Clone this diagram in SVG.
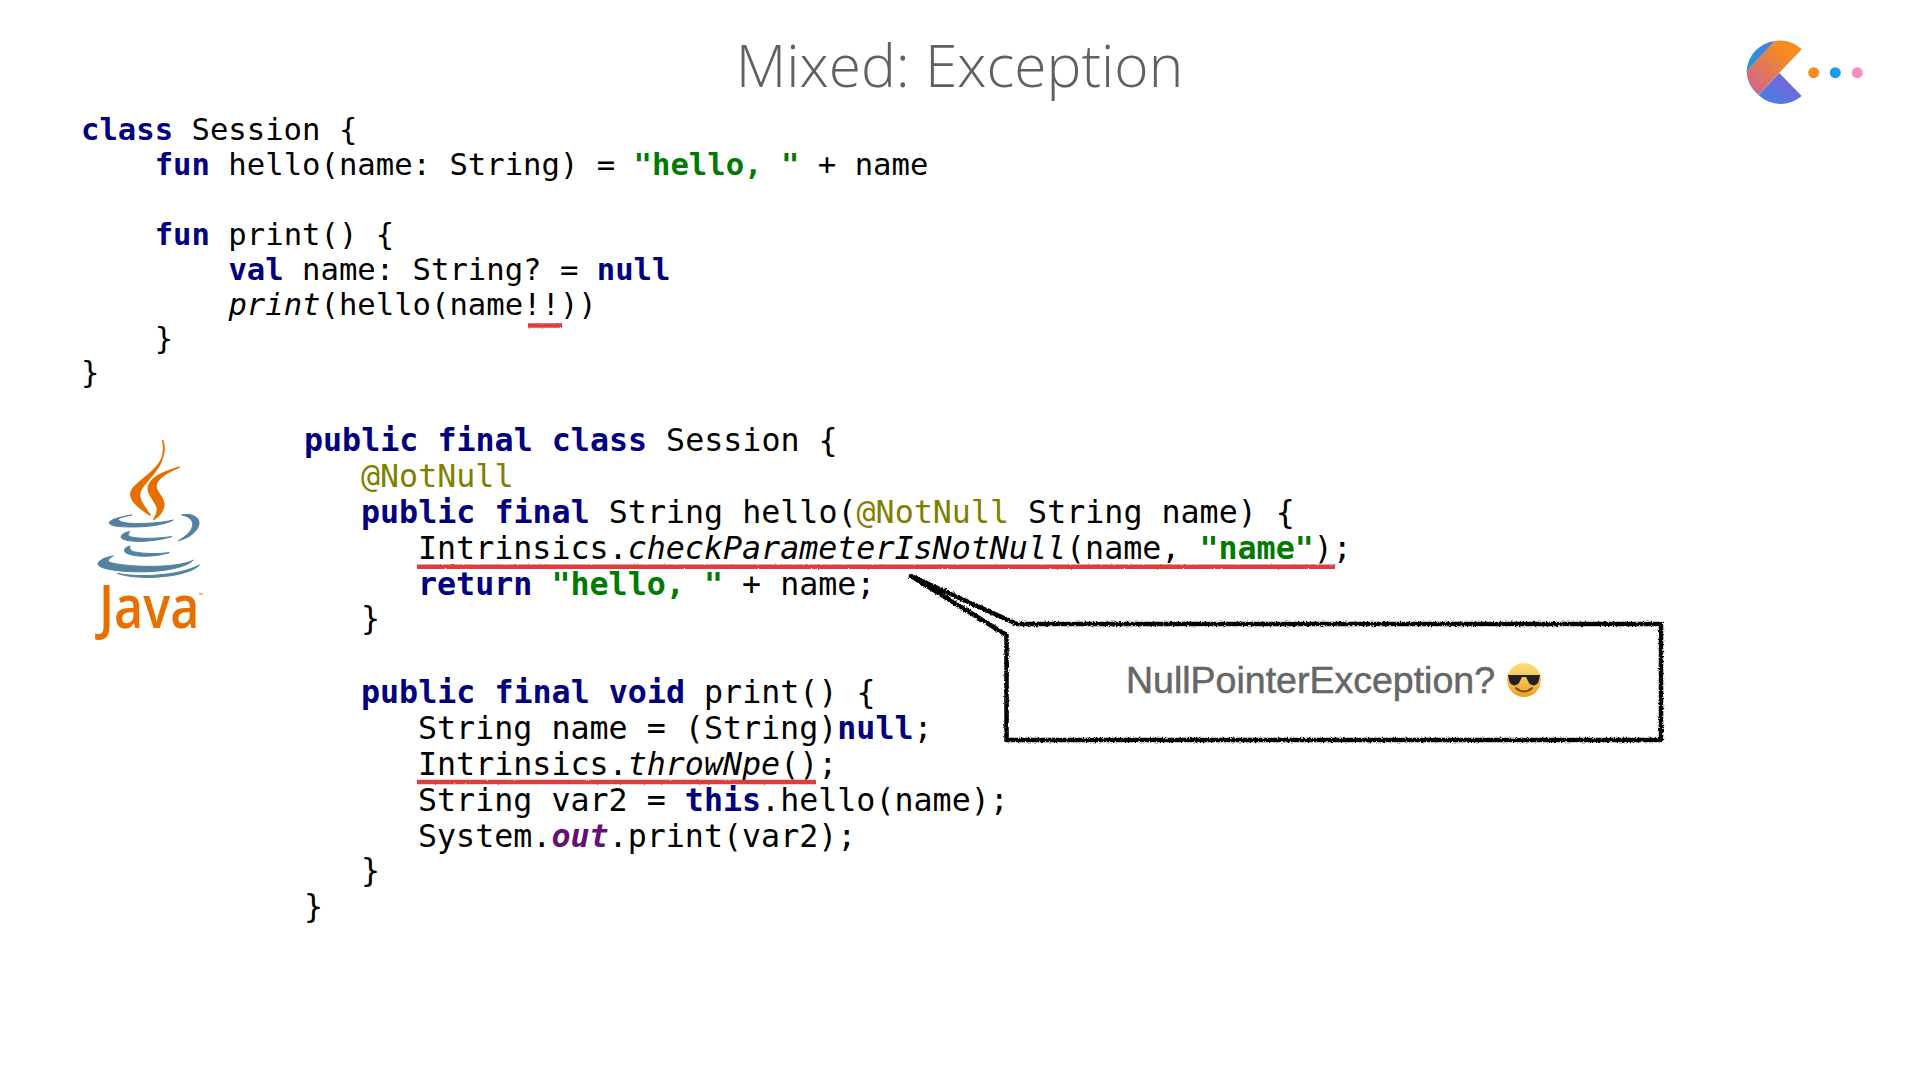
<svg xmlns="http://www.w3.org/2000/svg" width="1920" height="1080" viewBox="0 0 1920 1080">
<style>
.k{font-family:"DejaVu Sans Mono","Liberation Mono",monospace;font-size:30.6px;fill:#000;white-space:pre}
.j{font-family:"DejaVu Sans Mono","Liberation Mono",monospace;font-size:31.67px;fill:#000;white-space:pre}
.b{font-weight:700;fill:#000080}
.s{font-weight:700;fill:#007a00}
.a{fill:#808000}
.i{font-style:italic}
.o{font-weight:700;font-style:italic;fill:#660E7A}
.u{fill:none;stroke:#e23a3a;stroke-width:4.5;stroke-linecap:butt}
.fl{fill:#e76f00;stroke:#e76f00;stroke-width:5;stroke-linejoin:round}
.bl{fill:#5382a1;stroke:#5382a1;stroke-width:3;stroke-linejoin:round}
</style>
<defs>
<filter id="rough" x="-5%" y="-20%" width="110%" height="140%"><feTurbulence type="fractalNoise" baseFrequency="0.6" numOctaves="2" seed="4"/><feDisplacementMap in="SourceGraphic" scale="3.5" xChannelSelector="R" yChannelSelector="G"/></filter>
<filter id="soft" filterUnits="userSpaceOnUse" x="400" y="300" width="960" height="500"><feTurbulence type="fractalNoise" baseFrequency="0.7" numOctaves="2" seed="7"/><feDisplacementMap in="SourceGraphic" scale="2" xChannelSelector="R" yChannelSelector="G"/></filter>
<linearGradient id="g1" x1="1" y1="0" x2="0" y2="1"><stop offset="0.25" stop-color="#f68b1f"/><stop offset="1" stop-color="#c9619b"/></linearGradient>
<linearGradient id="g2" x1="1" y1="0" x2="0" y2="1"><stop offset="0.2" stop-color="#7a62dc"/><stop offset="1" stop-color="#3f86e0"/></linearGradient>
<linearGradient id="g3" x1="0" y1="0" x2="1" y2="0"><stop offset="0" stop-color="#1f97d8"/><stop offset="1" stop-color="#5a78d8"/></linearGradient>
<linearGradient id="sm" x1="0" y1="0" x2="0" y2="1"><stop offset="0" stop-color="#fbe27a"/><stop offset="1" stop-color="#f0a020"/></linearGradient>
</defs>
<rect width="1920" height="1080" fill="#fff"/>
<g id="title"><text x="959.5" y="87" text-anchor="middle" font-family="'Open Sans','Noto Sans',sans-serif" font-weight="300" font-size="58.6" fill="#606060">Mixed: Exception</text></g>
<g id="logo">
<path d="M1801.7 49.3A32 32 0 0 0 1775 41L1746.5 71A32 32 0 0 0 1758.5 95L1779.3 72.7Z" fill="url(#g1)"/>
<path d="M1775 41A32 32 0 0 0 1746.6 71Z" fill="url(#g3)"/>
<path d="M1779.3 73L1758.5 95A32 32 0 0 0 1801.7 96Z" fill="url(#g2)"/>
<circle cx="1813.7" cy="72.7" r="5.5" fill="#f68b1f"/><circle cx="1835.3" cy="72.7" r="5.5" fill="#1e9bf0"/><circle cx="1857.3" cy="72.7" r="5.5" fill="#f48fc0"/>
</g>
<g id="kotlin-code">
<text class="k" x="81" y="140"><tspan class="b">class</tspan> Session {</text>
<text class="k" x="154.7" y="175"><tspan class="b">fun</tspan> hello(name: String) = <tspan class="s">"hello, "</tspan> + name</text>
<text class="k" x="154.7" y="245"><tspan class="b">fun</tspan> print() {</text>
<text class="k" x="228.4" y="280"><tspan class="b">val</tspan> name: String? = <tspan class="b">null</tspan></text>
<text class="k" x="228.4" y="315"><tspan class="i">print</tspan>(hello(name!!))</text>
<text class="k" x="154.7" y="349">}</text>
<text class="k" x="81" y="383">}</text>
</g>
<g id="java-code">
<text class="j" x="304" y="451"><tspan class="b">public final class</tspan> Session {</text>
<text class="j" x="361" y="487"><tspan class="a">@NotNull</tspan></text>
<text class="j" x="361" y="523"><tspan class="b">public final</tspan> String hello(<tspan class="a">@NotNull</tspan> String name) {</text>
<text class="j" x="418" y="559">Intrinsics.<tspan class="i">checkParameterIsNotNull</tspan>(name, <tspan class="s">"name"</tspan>);</text>
<text class="j" x="418" y="595"><tspan class="b">return</tspan> <tspan class="s">"hello, "</tspan> + name;</text>
<text class="j" x="361" y="629">}</text>
<text class="j" x="361" y="703"><tspan class="b">public final void</tspan> print() {</text>
<text class="j" x="418" y="739">String name = (String)<tspan class="b">null</tspan>;</text>
<text class="j" x="418" y="775">Intrinsics.<tspan class="i">throwNpe</tspan>();</text>
<text class="j" x="418" y="811">String var2 = <tspan class="b">this</tspan>.hello(name);</text>
<text class="j" x="418" y="847">System.<tspan class="o">out</tspan>.print(var2);</text>
<text class="j" x="361" y="881">}</text>
<text class="j" x="304" y="917">}</text>
</g>
<g id="underlines" filter="url(#soft)">
<path class="u" d="M528 325.5H562"/>
<path class="u" d="M417 566.7H1335"/>
<path class="u" d="M417 782H816"/>
</g>
<g id="java-logo">
<g transform="translate(80 420) scale(.3333)">
<path class="fl" d="M248 62C262 105 240 135 205 165C170 195 140 210 158 240C170 258 190 272 210 285C195 262 172 240 180 215C190 180 268 140 248 62Z"/>
<path class="fl" d="M297 142C255 155 215 170 206 198C200 222 225 240 232 262C235 275 228 288 222 298C240 285 255 265 250 245C245 225 225 215 228 195C232 175 265 155 297 142Z"/>
<path class="bl" d="M155 285C115 292 85 300 88 310C92 322 150 322 190 320C225 318 265 310 280 300C250 308 190 312 150 310C125 308 115 302 115 298C120 292 140 288 155 285Z"/>
<path class="bl" d="M305 285C330 278 360 290 357 312C354 335 325 355 295 362C320 348 340 330 338 310C336 295 320 288 305 285Z"/>
<path class="bl" d="M150 335C125 338 120 350 125 355C140 368 215 368 275 350C235 355 180 358 150 350C142 345 145 340 150 335Z"/>
<path class="bl" d="M150 378C130 382 130 395 140 400C165 412 225 412 268 398C235 402 190 402 160 395C150 390 148 385 150 378Z"/>
<path class="bl" d="M100 408C70 412 50 425 55 435C65 450 140 458 210 455C270 452 325 438 340 420C315 435 240 442 170 438C125 435 85 430 85 422C85 415 95 412 100 408Z"/>
<path class="bl" d="M112 460C170 472 290 470 358 435C330 470 180 485 112 460Z"/>
</g>
<text transform="translate(99 628) scale(.84 1)" font-family="'Open Sans',sans-serif" font-weight="600" font-size="60" fill="#e76f00">Java</text>
<text x="198.5" y="597" font-family="'Open Sans',sans-serif" font-size="6" fill="#e76f00">™</text>
</g>
<g id="callout">
<path d="M911 576L1017 624H1661V740H1006.5V635Z" fill="#fff" stroke="#000" stroke-width="4.5" stroke-linejoin="round" filter="url(#rough)"/>
<text x="1126" y="693" font-family="'Liberation Sans',Arial,sans-serif" font-size="36" fill="#666" stroke="#666" stroke-width=".5" textLength="369" lengthAdjust="spacingAndGlyphs">NullPointerException?</text>
<g id="emoji">
<circle cx="1524" cy="680" r="17" fill="url(#sm)"/>
<path d="M1508 675H1540L1539 680C1538 687 1530 687 1528 681L1526 677H1522L1520 681C1518 687 1510 687 1509 680Z" fill="#222"/>
<path d="M1516 688Q1524 695 1532 688" fill="none" stroke="#7a4a10" stroke-width="1.8" stroke-linecap="round"/>
</g>
</g>
</svg>
